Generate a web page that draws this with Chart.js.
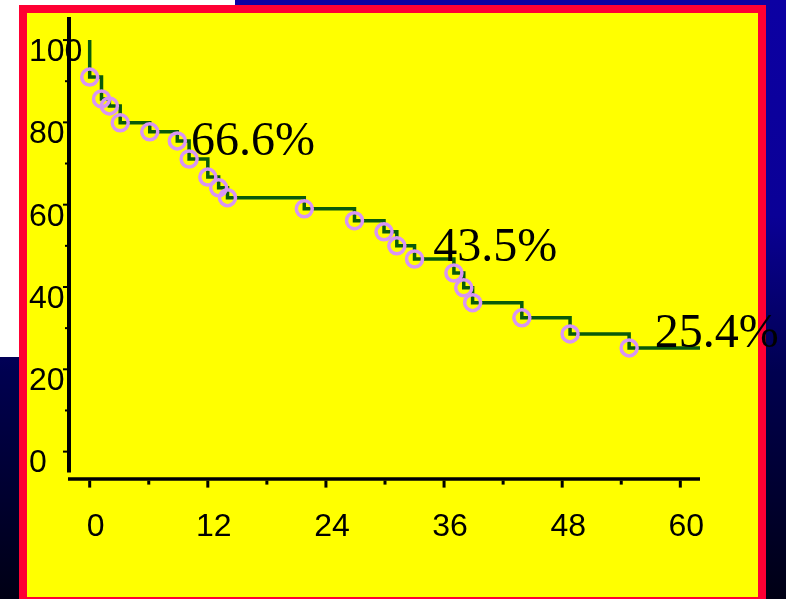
<!DOCTYPE html>
<html lang="en">
<head>
<meta charset="UTF-8">
<title>Survival curve</title>
<script src="https://cdn.jsdelivr.net/npm/chart.js@4.4.0/dist/chart.umd.min.js"></script>
<style>
  html, body { margin: 0; padding: 0; }
  body {
    width: 786px; height: 599px; overflow: hidden; position: relative;
    background: linear-gradient(to bottom, #0c00a3 0%, #0a0096 36%, #000050 62%, #000014 100%);
  }
  #white { position: absolute; left: 0; top: 0; width: 235px; height: 357px; background: #fff; }
  #panel {
    position: absolute; left: 19px; top: 5px; width: 731px; height: 584px;
    background: #ffff00; border: 8px solid #ff0033;
  }
  #chart { position: absolute; left: 0; top: 0; }
</style>
</head>
<body>
<div id="white"></div>
<div id="panel"></div>
<canvas id="chart" width="786" height="599"></canvas>
<script>
// months / survival % at each step of the curve (circles)
var times = [0, 1.2, 2.0, 3.1, 6.1, 8.9, 10.1, 12.0, 13.1, 14.0, 21.8, 26.9, 29.9, 31.2, 33.0, 37.0, 38.0, 38.9, 43.9, 48.8, 54.8];
var survival = [91.0, 85.7, 84.0, 79.9, 77.7, 75.5, 71.1, 66.7, 64.1, 61.7, 59.0, 56.1, 53.4, 50.0, 46.8, 43.4, 39.8, 36.2, 32.5, 28.6, 25.2];
var startSurvival = 100;
var lastTime = 62;

var xTicks = [0, 12, 24, 36, 48, 60];
var xMinor = [6, 18, 30, 42, 54];
var yTicks = [0, 20, 40, 60, 80, 100];
var yMinor = [10, 30, 50, 70, 90];

// percentage notes on the curve
var noteTexts = ['66.6%', '43.5%', '25.4%'];
var noteTimes = [10.3, 34.9, 57.4];
var noteLevels = [72.1, 46.4, 25.5];

var circlePoints = times.map(function(t, i) { return { x: t, y: survival[i] }; });
var linePoints = [{ x: 0, y: startSurvival }].concat(circlePoints);
linePoints.push({ x: lastTime, y: survival[survival.length - 1] });

var sansFont = '"Liberation Sans", Arial, sans-serif';

var axesPlugin = {
  id: 'axes',
  beforeDatasetsDraw: function(chart) {
    var ctx = chart.ctx, xs = chart.scales.x, ys = chart.scales.y, a = chart.chartArea;
    ctx.save();
    ctx.strokeStyle = '#000';
    // y axis line
    ctx.lineWidth = 4;
    ctx.beginPath();
    ctx.moveTo(a.left - 1, a.top);
    ctx.lineTo(a.left - 1, a.bottom - 7);
    ctx.stroke();
    // x axis line
    ctx.lineWidth = 3.5;
    ctx.beginPath();
    ctx.moveTo(a.left - 2, a.bottom - 0.5);
    ctx.lineTo(a.right, a.bottom - 0.5);
    ctx.stroke();
    // tick marks
    ctx.lineWidth = 2;
    yTicks.forEach(function(v) {
      var y = ys.getPixelForValue(v);
      ctx.beginPath(); ctx.moveTo(a.left - 7, y); ctx.lineTo(a.left - 1, y); ctx.stroke();
    });
    yMinor.forEach(function(v) {
      var y = ys.getPixelForValue(v);
      ctx.beginPath(); ctx.moveTo(a.left - 5, y); ctx.lineTo(a.left - 1, y); ctx.stroke();
    });
    ctx.lineWidth = 3;
    xTicks.forEach(function(v) {
      var x = xs.getPixelForValue(v);
      ctx.beginPath(); ctx.moveTo(x, a.bottom + 1); ctx.lineTo(x, a.bottom + 8); ctx.stroke();
    });
    xMinor.forEach(function(v) {
      var x = xs.getPixelForValue(v);
      ctx.beginPath(); ctx.moveTo(x, a.bottom + 1); ctx.lineTo(x, a.bottom + 5); ctx.stroke();
    });
    ctx.restore();
  },
  afterDatasetsDraw: function(chart) {
    var ctx = chart.ctx, xs = chart.scales.x, ys = chart.scales.y;
    ctx.save();
    ctx.fillStyle = '#000';
    ctx.font = '48px "Liberation Serif", "Times New Roman", serif';
    ctx.textAlign = 'left';
    ctx.textBaseline = 'alphabetic';
    noteTexts.forEach(function(txt, i) {
      ctx.fillText(txt, xs.getPixelForValue(noteTimes[i]), ys.getPixelForValue(noteLevels[i]));
    });
    ctx.restore();
  }
};

new Chart(document.getElementById('chart').getContext('2d'), {
  type: 'line',
  data: {
    datasets: [
      {
        data: circlePoints,
        showLine: false,
        pointRadius: 8,
        pointBorderWidth: 3.5,
        pointBorderColor: '#d895f4',
        pointBackgroundColor: 'rgba(0,0,0,0)',
        order: 0
      },
      {
        data: linePoints,
        stepped: true,
        borderColor: '#0a5a0a',
        borderWidth: 3.5,
        pointRadius: 0,
        fill: false,
        order: 1
      }
    ]
  },
  options: {
    responsive: false,
    animation: false,
    layout: { padding: { left: 29, top: 17, right: 86, bottom: 25 } },
    plugins: { legend: { display: false }, tooltip: { enabled: false } },
    scales: {
      x: {
        type: 'linear', min: -2, max: 62,
        grid: { display: false, drawTicks: false },
        border: { display: false },
        afterBuildTicks: function(s) { s.ticks = xTicks.map(function(v) { return { value: v }; }); },
        ticks: { font: { family: sansFont, size: 32 }, color: '#000', padding: 28, labelOffset: 6, maxRotation: 0 }
      },
      y: {
        type: 'linear', min: -6.8, max: 105.6,
        grid: { display: false, drawTicks: false },
        border: { display: false },
        afterBuildTicks: function(s) { s.ticks = yTicks.map(function(v) { return { value: v }; }); },
        afterFit: function(s) { s.width = 41; },
        // mirrored with negative padding so labels start at the panel edge and are not clipped
        ticks: { font: { family: sansFont, size: 32 }, color: '#000', mirror: true, padding: -41, crossAlign: 'near', labelOffset: 12 }
      }
    }
  },
  plugins: [axesPlugin]
});
</script>
</body>
</html>
